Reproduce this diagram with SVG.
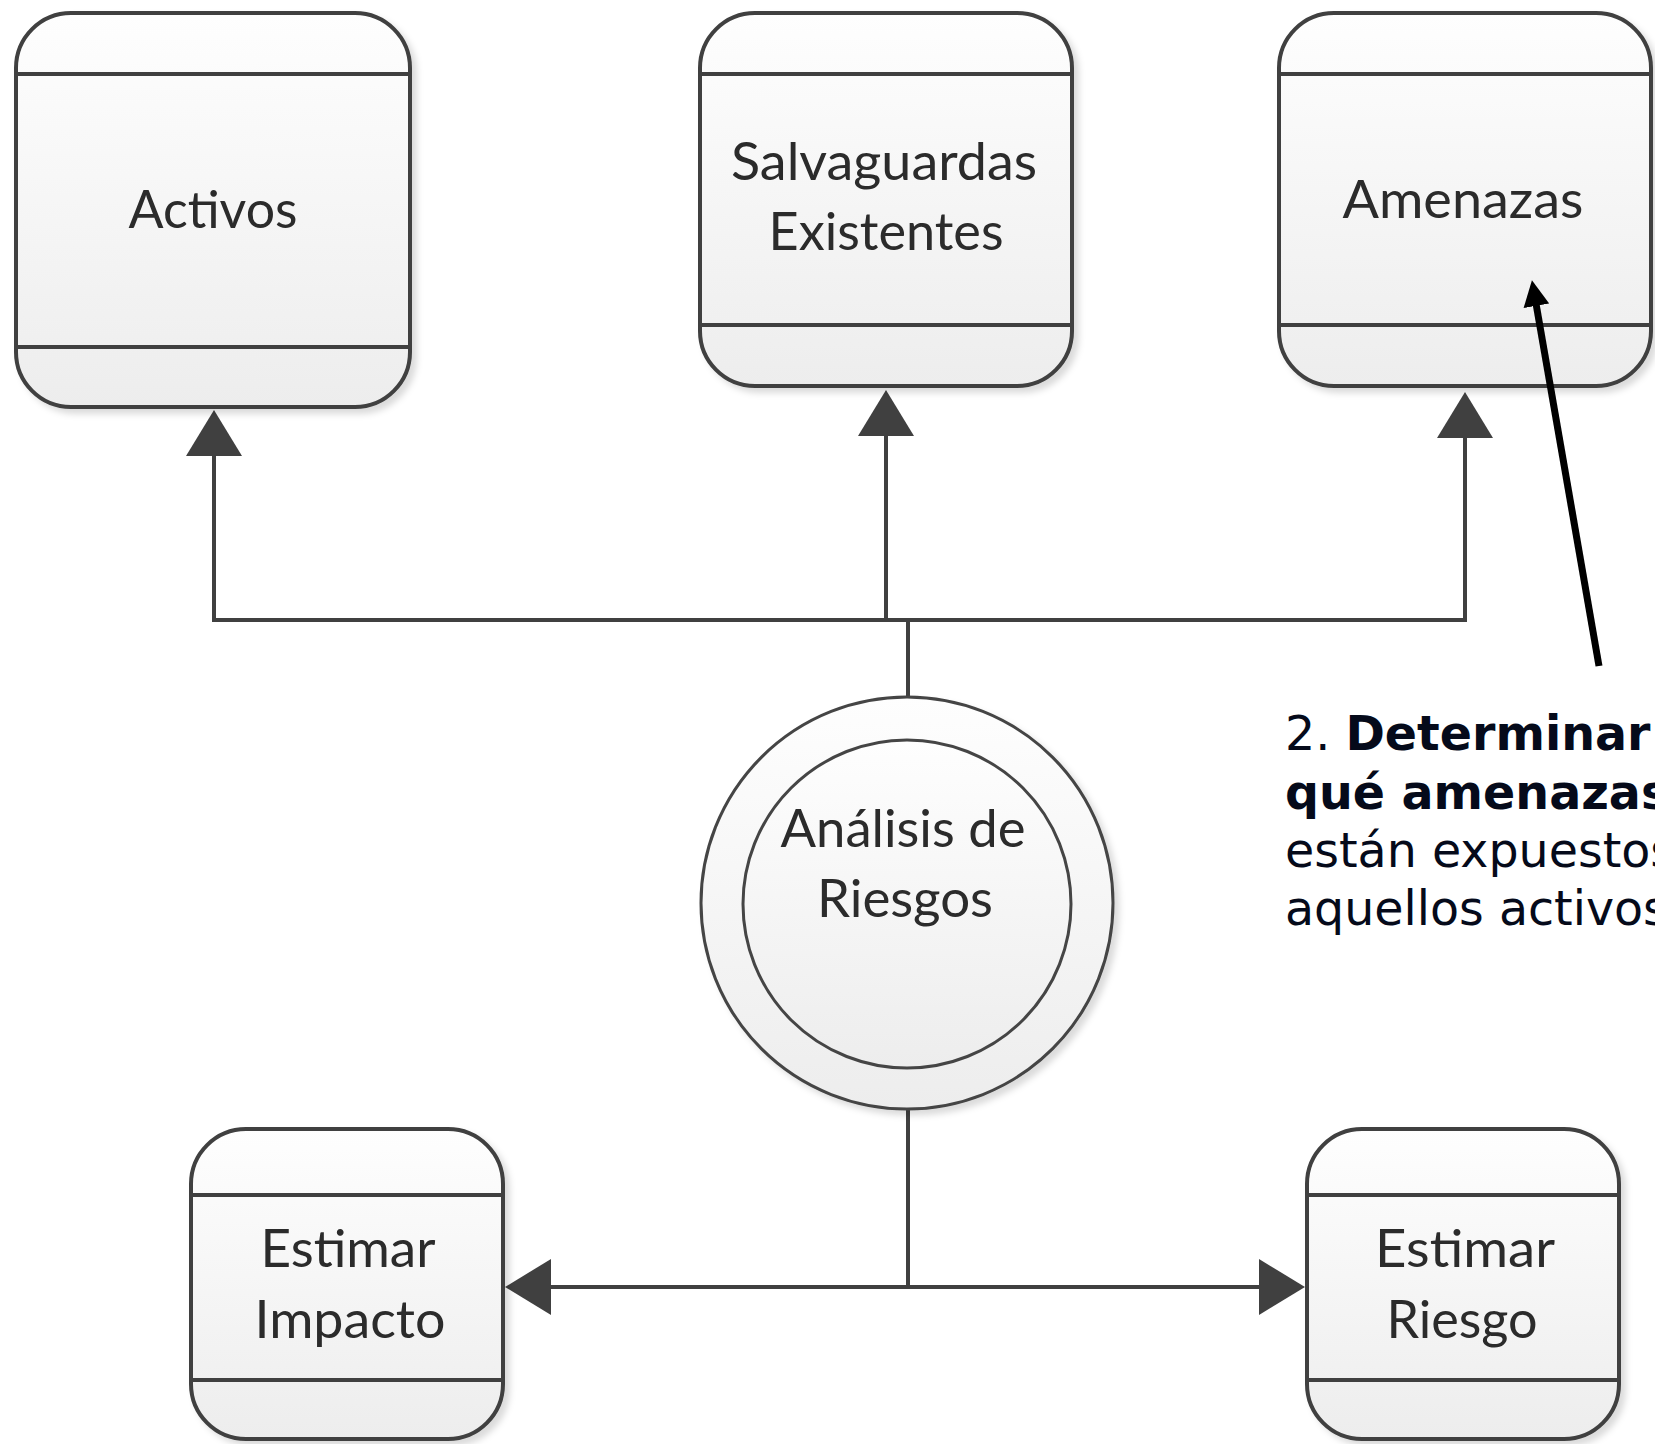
<svg xmlns="http://www.w3.org/2000/svg" width="1655" height="1444" viewBox="0 0 1655 1444">
<style>
.box{fill:url(#g);stroke:#404040;stroke-width:4;filter:url(#sh)}
.div{stroke:#404040;stroke-width:4}
.circ{fill:url(#g);stroke:#454545;stroke-width:3}
.lbl{font-family:Lato,"Liberation Sans",sans-serif;font-size:52px;fill:#2b2b2b;text-anchor:middle}
.con{fill:none;stroke:#404040;stroke-width:4}
.note{font-family:"DejaVu Sans",Verdana,sans-serif;font-size:47.5px;fill:#050a1a}
</style>
<defs>
<linearGradient id="g" x1="0" y1="0" x2="0" y2="1">
<stop offset="0" stop-color="#fefefe"/>
<stop offset="1" stop-color="#ededed"/>
</linearGradient>
<filter id="sh" x="-10%" y="-10%" width="125%" height="125%">
<feDropShadow dx="5" dy="5" stdDeviation="3" flood-color="#000" flood-opacity="0.14"/>
</filter>
<marker id="ah" viewBox="0 0 46 56" refX="26" refY="28" markerWidth="46" markerHeight="56" markerUnits="userSpaceOnUse" orient="auto">
<path d="M0,0 L46,28 L0,56 Z" fill="#404040"/>
</marker>
<marker id="bh" viewBox="0 0 26 26" refX="14" refY="13" markerWidth="26" markerHeight="26" markerUnits="userSpaceOnUse" orient="auto">
<path d="M0,0 L26,13 L0,26 Z" fill="#000"/>
</marker>
</defs>
<rect width="1655" height="1444" fill="#fff"/>

<g id="connectors">
<path class="con" d="M908,697 V620 H214 V430" marker-end="url(#ah)"/>
<path class="con" d="M908,620 H1465 V412" marker-end="url(#ah)"/>
<path class="con" d="M886,620 V410" marker-end="url(#ah)"/>
<path class="con" d="M908,1108 V1287 H525" marker-end="url(#ah)"/>
<path class="con" d="M908,1287 H1285" marker-end="url(#ah)"/>
</g>

<g id="activos">
<rect class="box" x="16" y="13" width="394" height="394" rx="55"/>
<line class="div" x1="16" y1="74" x2="410" y2="74"/>
<line class="div" x1="16" y1="347" x2="410" y2="347"/>
<text class="lbl" x="213" y="228" textLength="169" lengthAdjust="spacingAndGlyphs">Activos</text>
</g>

<g id="salvaguardas">
<rect class="box" x="700" y="13" width="372" height="373" rx="55"/>
<line class="div" x1="700" y1="74" x2="1072" y2="74"/>
<line class="div" x1="700" y1="325" x2="1072" y2="325"/>
<text class="lbl" x="884" y="180" textLength="306" lengthAdjust="spacingAndGlyphs">Salvaguardas</text>
<text class="lbl" x="886" y="250" textLength="235" lengthAdjust="spacingAndGlyphs">Existentes</text>
</g>

<g id="amenazas">
<rect class="box" x="1279" y="13" width="372" height="373" rx="55"/>
<line class="div" x1="1279" y1="74" x2="1651" y2="74"/>
<line class="div" x1="1279" y1="325" x2="1651" y2="325"/>
<text class="lbl" x="1463" y="218" textLength="241" lengthAdjust="spacingAndGlyphs">Amenazas</text>
</g>

<g id="analisis">
<circle class="circ" cx="907" cy="903" r="206" filter="url(#sh)"/>
<circle class="circ" cx="907" cy="904" r="164"/>
<text class="lbl" x="903" y="847" textLength="245" lengthAdjust="spacingAndGlyphs">Análisis de</text>
<text class="lbl" x="905" y="917" textLength="176" lengthAdjust="spacingAndGlyphs">Riesgos</text>
</g>

<g id="estimar-impacto">
<rect class="box" x="191" y="1129" width="312" height="310" rx="55"/>
<line class="div" x1="191" y1="1195" x2="503" y2="1195"/>
<line class="div" x1="191" y1="1380" x2="503" y2="1380"/>
<text class="lbl" x="348" y="1267" textLength="175" lengthAdjust="spacingAndGlyphs">Estimar</text>
<text class="lbl" x="350" y="1338" textLength="191" lengthAdjust="spacingAndGlyphs">Impacto</text>
</g>

<g id="estimar-riesgo">
<rect class="box" x="1307" y="1129" width="312" height="310" rx="55"/>
<line class="div" x1="1307" y1="1195" x2="1619" y2="1195"/>
<line class="div" x1="1307" y1="1380" x2="1619" y2="1380"/>
<text class="lbl" x="1465" y="1267" textLength="180" lengthAdjust="spacingAndGlyphs">Estimar</text>
<text class="lbl" x="1462" y="1338" textLength="151" lengthAdjust="spacingAndGlyphs">Riesgo</text>
</g>

<g id="nota">
<path d="M1599,666 L1534,292" fill="none" stroke="#000" stroke-width="7" marker-end="url(#bh)"/>
<text class="note" x="1285" y="750">2. <tspan font-weight="bold">Determinar</tspan></text>
<text class="note" x="1285" y="809" font-weight="bold">qué amenazas</text>
<text class="note" x="1285" y="867">están expuestos</text>
<text class="note" x="1285" y="925">aquellos activos</text>
</g>
</svg>
